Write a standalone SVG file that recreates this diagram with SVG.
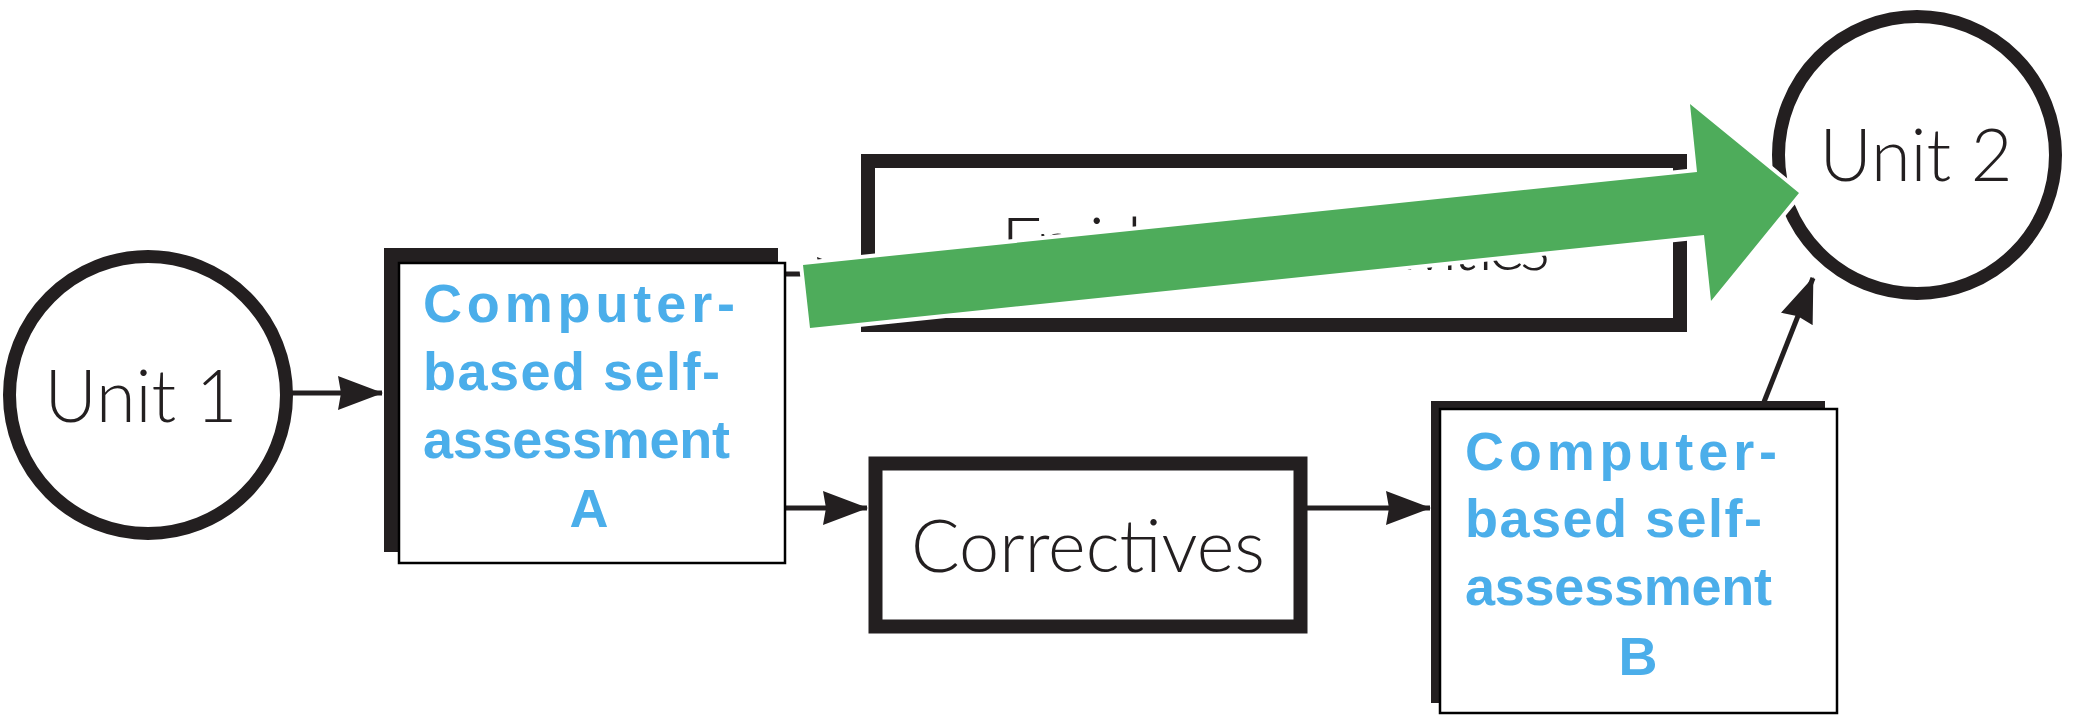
<svg xmlns="http://www.w3.org/2000/svg" width="2080" height="720" viewBox="0 0 2080 720">
  <style>
    .label { font-family: Lato, "Open Sans", "Liberation Sans", sans-serif; font-weight: 300; font-size: 72px; fill: #231f20; }
    .hand { font-family: "Liberation Sans", Arial, sans-serif; font-weight: 700; font-size: 54px; fill: #4baeea; }
    .frame { fill: #fff; stroke: #231f20; stroke-width: 14; }
    .overlay { fill: #fff; stroke: #000; stroke-width: 2.5; }
    .conn { fill: none; stroke: #231f20; stroke-width: 5; marker-end: url(#arrow); }
  </style>
  <defs>
    <marker id="arrow" viewBox="0 0 45 34" refX="44" refY="17" markerWidth="45" markerHeight="34" markerUnits="userSpaceOnUse" orient="auto">
      <path d="M0,0 L45,17 L0,34 L3,17 Z" fill="#231f20"/>
    </marker>
  </defs>
  <rect width="2080" height="720" fill="#fff"/>

  <g id="connectors">
    <path class="conn" d="M292,393 L382,393"/>
    <path class="conn" d="M786,274 L861,274"/>
    <path class="conn" d="M786,508 L867,508"/>
    <path class="conn" d="M1307,508 L1430,508"/>
    <path class="conn" d="M1764,402 L1813,278"/>
  </g>

  <g id="unit1">
    <circle cx="148" cy="395" r="138.5" fill="#fff" stroke="#231f20" stroke-width="13"/>
    <text class="label" x="141" y="422" text-anchor="middle">Unit 1</text>
  </g>

  <g id="unit2">
    <circle cx="1917" cy="155" r="138.5" fill="#fff" stroke="#231f20" stroke-width="13"/>
    <text class="label" x="1916" y="181" text-anchor="middle">Unit 2</text>
  </g>

  <g id="enrichment">
    <rect class="frame" x="868" y="161" width="812" height="164"/>
    <text class="label" x="1001" y="270" textLength="549" lengthAdjust="spacing">Enrichment Activities</text>
  </g>

  <g id="correctives">
    <rect class="frame" x="875.5" y="463.5" width="425" height="163" stroke-width="13"/>
    <text class="label" x="1088" y="572" text-anchor="middle">Correctives</text>
  </g>

  <g id="assessmentA">
    <rect class="frame" x="391" y="255" width="380" height="290"/>
    <rect class="overlay" x="399" y="263" width="386" height="300"/>
    <text class="hand" x="423" y="322" textLength="312" lengthAdjust="spacing">Computer-</text>
    <text class="hand" x="423" y="390" textLength="297" lengthAdjust="spacing">based self-</text>
    <text class="hand" x="423" y="458" textLength="307" lengthAdjust="spacing">assessment</text>
    <text class="hand" x="589" y="527" text-anchor="middle">A</text>
  </g>

  <g id="assessmentB">
    <rect class="frame" x="1438" y="408" width="380" height="288"/>
    <rect class="overlay" x="1440" y="409" width="397" height="304"/>
    <text class="hand" x="1465" y="470" textLength="312" lengthAdjust="spacing">Computer-</text>
    <text class="hand" x="1465" y="537" textLength="297" lengthAdjust="spacing">based self-</text>
    <text class="hand" x="1465" y="605" textLength="307" lengthAdjust="spacing">assessment</text>
    <text class="hand" x="1638" y="675" text-anchor="middle">B</text>
  </g>

  <g id="green-arrow">
    <polygon points="803,265 1697,172 1690,104 1799,193 1711,301 1704,235 810,328" fill="#4eac5b" stroke="#fff" stroke-width="8" stroke-linejoin="miter" paint-order="stroke"/>
  </g>
</svg>
